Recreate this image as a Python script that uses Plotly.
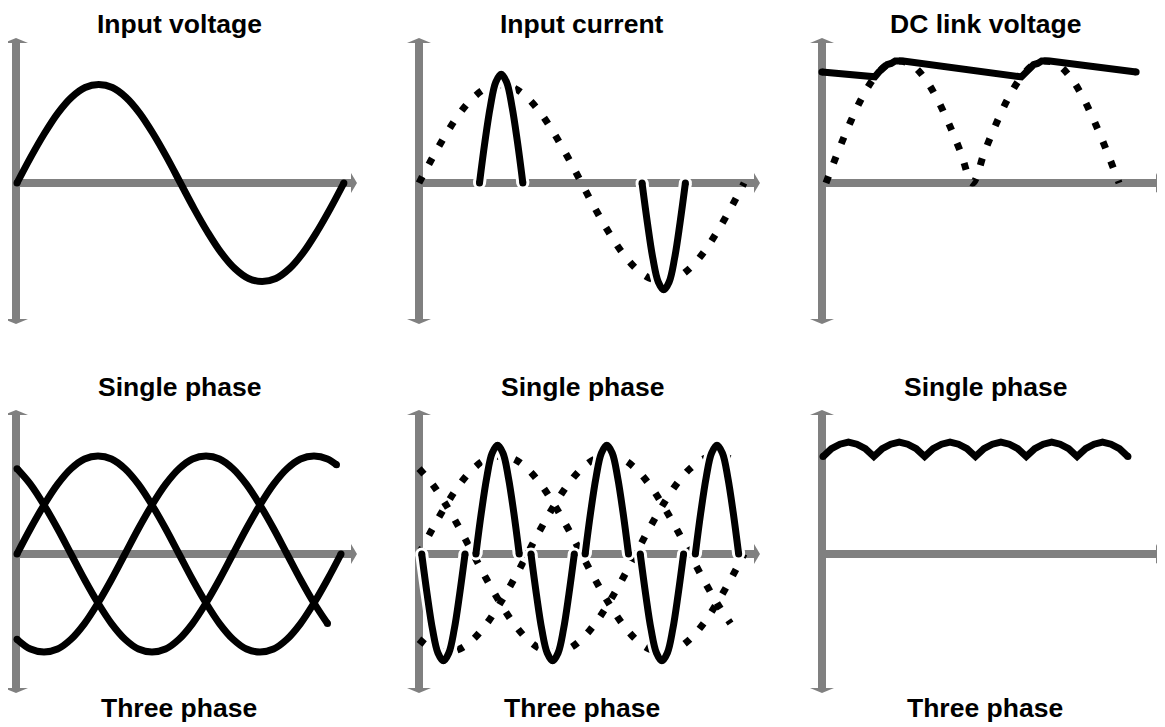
import plotly.graph_objects as go

W, H = 1165, 727
OFF = 8                      # page body margin around the plot div
WF, HF = W - OFF, H - OFF    # figure size that fits the window
GREY = '#808080'
INK = 'black'

# phase angle grid (degrees)
deg15 = list(range(0, 361, 15))
deg10 = list(range(0, 361, 10))

# mains phases, amplitude 1
phase_a = [0, .26, .5, .71, .87, .97, 1, .97, .87, .71, .5, .26, 0,
           -.26, -.5, -.71, -.87, -.97, -1, -.97, -.87, -.71, -.5, -.26, 0]
phase_b_x = deg15[:24]
phase_b = [-.87, -.97, -1, -.97, -.87, -.71, -.5, -.26, 0, .26, .5, .71,
           .87, .97, 1, .97, .87, .71, .5, .26, 0, -.26, -.5, -.71]
phase_c_x = deg15[:24] + [355]
phase_c = [.87, .71, .5, .26, 0, -.26, -.5, -.71, -.87, -.97, -1, -.97,
           -.87, -.71, -.5, -.26, 0, .26, .5, .71, .87, .97, 1, .97, .91]

# bridge output, single phase
rect_1ph = [0, .26, .5, .71, .87, .97, 1, .97, .87, .71, .5, .26, 0,
            .26, .5, .71, .87, .97, 1, .97, .87, .71, .5, .26, 0]

# DC link, single phase: capacitor sags between charging humps
dc_1ph_x = [-5, 60, 65, 70, 75, 80, 85, 90, 95,
            240, 245, 250, 255, 260, 265, 270, 275, 381]
dc_1ph_y = [.91, .87, .91, .94, .97, .98, 1, 1, 1,
            .87, .91, .94, .97, .98, 1, 1, 1, .91]

# DC link, three phase ripple
dc_3ph = [.87, .94, .98, 1, .98, .94, .87, .94, .98, 1, .98, .94, .87,
          .94, .98, 1, .98, .94, .87, .94, .98, 1, .98, .94, .87,
          .94, .98, 1, .98, .94, .87, .94, .98, 1, .98, .94, .87]

# current blips drawn by the rectifier
pulse_up = [0, .42, .78, 1.03, 1.11, 1.03, .78, .42, 0]
pulse_dn = [0, -.41, -.77, -1.01, -1.09, -1.01, -.77, -.41, 0]
i1_x = [[67, 73, 79, 85, 91, 97, 103, 109, 115],
        [247, 253, 259, 265, 271, 277, 283, 289, 295]]
i1_y = [pulse_up, pulse_dn]
i3_x = [[3, 9, 15, 21, 27, 33, 39, 45, 51],
        [63, 69, 75, 81, 87, 93, 99, 105, 111],
        [124, 130, 136, 142, 148, 154, 160, 166, 172],
        [184, 190, 196, 202, 208, 214, 220, 226, 232],
        [245, 251, 257, 263, 269, 275, 281, 287, 293],
        [306, 312, 318, 324, 330, 336, 342, 348, 354]]
i3_y = [pulse_dn, pulse_up, pulse_dn, pulse_up, pulse_dn, pulse_up]

titles_top = ['Input voltage', 'Input current', 'DC link voltage']

# page layout (window pixels)
COLS = [(8, 390), (390, 780), (780, 1165)]
ROWS = [(8, 360), (360, 727)]
TIP_X = [357, 760, 1162]
ROW_V = [(38, 324), (410, 693)]
TEXT_X = [179, 582, 985]
PANELS = [
    dict(col=0, row=0, ox=17, oy=183, sx=0.908, sy=98.5, vx=16),
    dict(col=1, row=0, ox=419, oy=183, sx=0.903, sy=98, vx=419),
    dict(col=2, row=0, ox=826, oy=183, sx=0.814, sy=122, vx=822),
    dict(col=0, row=1, ox=17, oy=554, sx=0.9, sy=98, vx=16),
    dict(col=1, row=1, ox=419, oy=554, sx=0.903, sy=98, vx=419),
    dict(col=2, row=1, ox=823, oy=554, sx=0.847, sy=112, vx=822),
]

fig = go.Figure()
shapes = []


def axis_ids(k):
    s = '' if k == 1 else str(k)
    return 'x' + s, 'y' + s, 'xaxis' + s, 'yaxis' + s


def setup_panel(k, p):
    xr, yr, xname, yname = axis_ids(k)
    L, R = COLS[p['col']]
    T, B = ROWS[p['row']]
    dx = lambda px: (px - p['ox']) / p['sx']
    dy = lambda py: (p['oy'] - py) / p['sy']
    fig.update_layout(**{
        xname: dict(domain=[(L - OFF) / WF, (R - OFF) / WF], range=[dx(L), dx(R)],
                    visible=False, anchor=yr),
        yname: dict(domain=[1 - (B - OFF) / HF, 1 - (T - OFF) / HF],
                    range=[dy(B), dy(T)], visible=False, anchor=xr),
    })
    vx, oy = p['vx'], p['oy']
    top, bot = ROW_V[p['row']]
    tip = TIP_X[p['col']]
    ax = dict(xref=xr, yref=yr, layer='below')
    # vertical axis with both arrowheads
    shapes.append(dict(type='line', x0=dx(vx), x1=dx(vx), y0=dy(top + 4),
                       y1=dy(bot - 4), line=dict(color=GREY, width=8), **ax))
    for t, b in ((top, top + 5), (bot, bot - 5)):
        path = f'M{dx(vx - 12)},{dy(b)} L{dx(vx)},{dy(t)} L{dx(vx + 12)},{dy(b)} Z'
        shapes.append(dict(type='path', path=path, fillcolor=GREY,
                           line=dict(width=0), **ax))
    # horizontal axis
    shapes.append(dict(type='line', x0=dx(vx - 4), x1=dx(tip - 5), y0=0, y1=0,
                       line=dict(color=GREY, width=8), **ax))
    path = f'M{dx(tip - 6)},{dy(oy - 10)} L{dx(tip)},0 L{dx(tip - 6)},{dy(oy + 10)} Z'
    shapes.append(dict(type='path', path=path, fillcolor=GREY,
                       line=dict(width=0), **ax))


def solid(k, x, y, shape='spline', halo=False):
    xr, yr = axis_ids(k)[:2]
    layers = [('white', 13), (INK, 7)] if halo else [(INK, 7)]
    for col, w in layers:
        fig.add_trace(go.Scatter(x=x, y=y, xaxis=xr, yaxis=yr, mode='lines',
                                 line=dict(color=col, width=w, shape=shape),
                                 hoverinfo='skip'))
        fig.add_trace(go.Scatter(x=[x[0], x[-1]], y=[y[0], y[-1]], xaxis=xr,
                                 yaxis=yr, mode='markers',
                                 marker=dict(color=col, size=w, line=dict(width=0)),
                                 hoverinfo='skip'))


def dotted(k, x, y):
    xr, yr = axis_ids(k)[:2]
    fig.add_trace(go.Scatter(x=x, y=y, xaxis=xr, yaxis=yr, mode='lines',
                             line=dict(color=INK, width=7, dash='7px,14px',
                                       shape='spline'),
                             hoverinfo='skip'))


for k, p in enumerate(PANELS, start=1):
    setup_panel(k, p)

# single phase
solid(1, deg15, phase_a)
dotted(2, deg15, phase_a)
for x, y in zip(i1_x, i1_y):
    solid(2, x, y, halo=True)
dotted(3, deg15, rect_1ph)
solid(3, dc_1ph_x, dc_1ph_y, shape='linear')

# three phase
solid(4, deg15, phase_a)
solid(4, phase_b_x, phase_b)
solid(4, phase_c_x, phase_c)
dotted(5, deg15, phase_a)
dotted(5, phase_b_x, phase_b)
dotted(5, phase_c_x, phase_c)
for x, y in zip(i3_x, i3_y):
    solid(5, x, y, halo=True)
solid(6, deg10, dc_3ph, shape='linear')

font = dict(family='Liberation Sans, Arial, sans-serif', size=26.5, color=INK)
annotations = []
for i, cx in enumerate(TEXT_X):
    for text, py in ((titles_top[i], 24), ('Single phase', 387), ('Three phase', 708)):
        annotations.append(dict(text=f'<b>{text}</b>', x=(cx - OFF) / WF,
                                y=1 - (py - OFF) / HF,
                                xref='paper', yref='paper', showarrow=False,
                                xanchor='center', yanchor='middle', font=font))

fig.update_layout(
    width=WF, height=HF,
    margin=dict(l=0, r=0, t=0, b=0),
    paper_bgcolor='white', plot_bgcolor='white',
    showlegend=False,
    shapes=shapes,
    annotations=annotations,
)

fig.write_html("out.html")
